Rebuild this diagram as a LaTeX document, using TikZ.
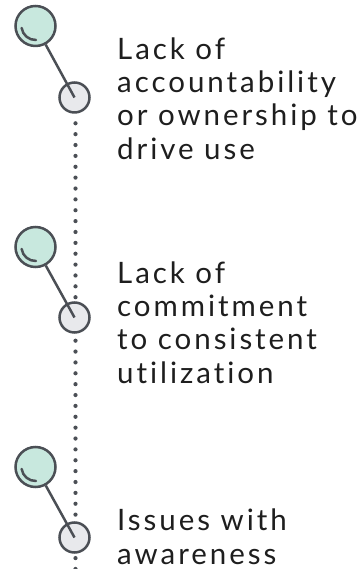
\documentclass[tikz,border=0pt]{standalone}
\usepackage{fontspec}
\setmainfont{Lato}[LetterSpace=10,Ligatures={NoCommon}]
\usepackage{xcolor}
\definecolor{mint}{HTML}{C8E8DE}
\definecolor{hell}{HTML}{E8E9EC}
\definecolor{dunkel}{HTML}{4B4F55}
\definecolor{schrift}{HTML}{1E1E1E}

\begin{document}
\begin{tikzpicture}[x=1pt,y=1pt,
  gross/.style={circle, minimum size=40pt, inner sep=0pt, draw=dunkel, line width=2.5pt, fill=mint},
  klein/.style={circle, minimum size=30pt, inner sep=0pt, draw=dunkel, line width=2.5pt, fill=hell},
  stiel/.style={dunkel, line width=2.5pt},
  beschr/.style={anchor=base west, inner sep=0pt, align=left, text=schrift, font=\fontsize{29.5}{33.3}\selectfont}]
\useasboundingbox (0,0) rectangle (362,569);
% dotted line behind the circles
\coordinate (oben) at (75.5,445.7);
\coordinate (unten) at (75.5,-0.5);
\draw [dunkel, line width=4.2pt, line cap=round, dash pattern=on 0pt off 10.87pt] (oben) -- (unten);
% circles
\node [gross] (A) at (35.5,543){};
\node [klein] (a) at (74.5,471.5){};
\node [gross] (B) at (35.5,322){};
\node [klein] (b) at (74.5,251.5){};
\node [gross] (C) at (35.5,102){};
\node [klein] (c) at (74.5,31.5){};
\draw [stiel] (A) -- (a.center);
\draw [stiel] (B) -- (b.center);
\draw [stiel] (C) -- (c.center);
\draw [stiel, line cap=round] (A.center) ++(188:14) arc[start angle=188, end angle=272, radius=14];
\draw [stiel, line cap=round] (B.center) ++(188:14) arc[start angle=188, end angle=272, radius=14];
\draw [stiel, line cap=round] (C.center) ++(188:14) arc[start angle=188, end angle=272, radius=14];
% labels (base = last line)
\node [beschr] (t1) at (117,409.7){Lack of\\accountability\\or ownership to\\drive use};
\node [beschr] (t2) at (117,185.7){Lack of\\commitment\\to consistent\\utilization};
\node [beschr] (t3) at (117,5){Issues with\\awareness};
\end{tikzpicture}
\end{document}
